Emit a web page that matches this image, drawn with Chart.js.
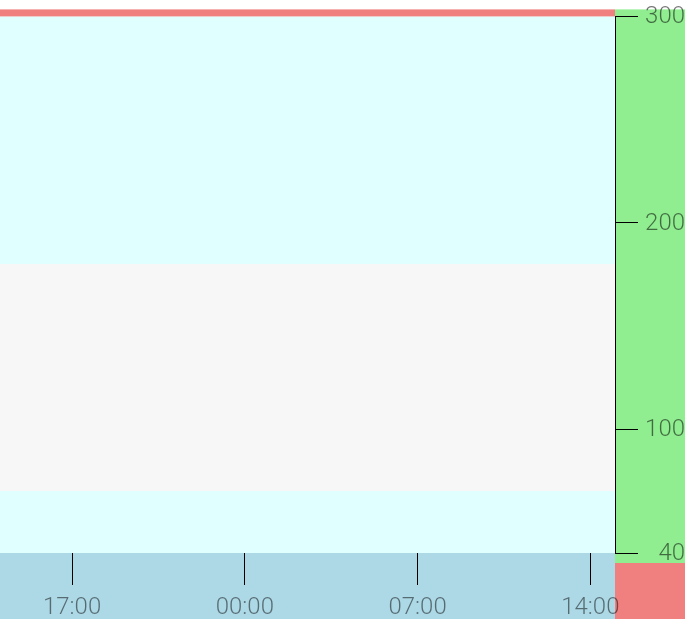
<!DOCTYPE html>
<html>
<head>
<meta charset="utf-8">
<script src="https://cdn.jsdelivr.net/npm/chart.js@4/dist/chart.umd.min.js"></script>
<style>
  html, body { margin: 0; padding: 0; background: #ffffff; }
  #wrap { width: 691px; height: 619px; }
</style>
</head>
<body>
<div id="wrap"><canvas id="c" width="691" height="619"></canvas></div>
<script>
// ---- data ----
const xTickHours = [17, 24, 31, 38];                 // hours since start of day 1
const xTickLabels = ['17:00', '00:00', '07:00', '14:00'];
const xRange = [14.08, 39.0];                        // 14:05 -> 15:00 next day
const yTicks = [40, 100, 200, 300];
const yRange = [40, 300];
const targetLow = [70];
const targetHigh = [180];
const readings = [];                                  // no readings shown

const COL_CYAN = '#e0ffff';
const COL_GRAY = '#f7f7f7';
const COL_BLUE = '#add8e6';
const COL_GREEN = '#90ee90';
const COL_RED = '#f08080';
const FONT = { family: "'Roboto Light', Roboto, sans-serif", size: 24, weight: '300' };

const bgPlugin = {
  id: 'bands',
  beforeDraw(chart) {
    const { ctx, chartArea: a, scales: { x, y } } = chart;
    ctx.save();
    ctx.fillStyle = COL_CYAN;
    ctx.fillRect(a.left, a.top, a.right - a.left, a.bottom - a.top);
    const yHi = y.getPixelForValue(targetHigh[0]);
    const yLo = y.getPixelForValue(targetLow[0]);
    ctx.fillStyle = COL_GRAY;
    ctx.fillRect(a.left, yHi, a.right - a.left, yLo - yHi);
    ctx.fillStyle = COL_RED;
    ctx.fillRect(a.left, a.top - 7, a.right - a.left, 7);
    ctx.fillStyle = COL_BLUE;
    ctx.fillRect(x.left, x.top, x.right - x.left, chart.height - x.top);
    ctx.fillStyle = COL_GREEN;
    ctx.fillRect(y.left, a.top - 7, y.right - y.left, a.bottom + 10 - (a.top - 7));
    ctx.fillStyle = COL_RED;
    ctx.fillRect(y.left, a.bottom + 10, y.right - y.left, chart.height - (a.bottom + 10));
    ctx.restore();
  }
};

new Chart(document.getElementById('c'), {
  type: 'scatter',
  data: {
    datasets: [{
      label: 'Glucose',
      data: readings,
      pointRadius: 4,
      backgroundColor: '#333'
    }]
  },
  options: {
    responsive: false,
    animation: false,
    devicePixelRatio: 1,
    layout: { padding: { top: 14, right: 6, bottom: 0, left: 0 } },
    plugins: { legend: { display: false }, tooltip: { enabled: false } },
    scales: {
      x: {
        type: 'linear',
        min: xRange[0],
        max: xRange[1],
        afterBuildTicks(s) { s.ticks = xTickHours.map(v => ({ value: v })); },
        afterFit(s) { s.height = 66; },
        border: { display: false },
        grid: { drawOnChartArea: false, drawTicks: true, tickLength: 32, color: '#000', lineWidth: 1 },
        ticks: {
          autoSkip: false,
          maxRotation: 0,
          padding: 8,
          color: 'rgba(0,0,0,0.5)',
          font: FONT,
          callback(v) { const i = xTickHours.indexOf(v); return i >= 0 ? xTickLabels[i] : ''; }
        }
      },
      y: {
        position: 'right',
        min: yRange[0],
        max: yRange[1],
        afterBuildTicks(s) { s.ticks = yTicks.map(v => ({ value: v })); },
        afterFit(s) { s.width = 70; },
        border: { display: true, color: '#000', width: 1 },
        grid: { drawOnChartArea: false, drawTicks: true, tickLength: 23, color: '#000', lineWidth: 1 },
        ticks: {
          crossAlign: 'far',
          padding: 2,
          color: 'rgba(0,0,0,0.55)',
          font: FONT
        }
      }
    }
  },
  plugins: [bgPlugin]
});
</script>
</body>
</html>
